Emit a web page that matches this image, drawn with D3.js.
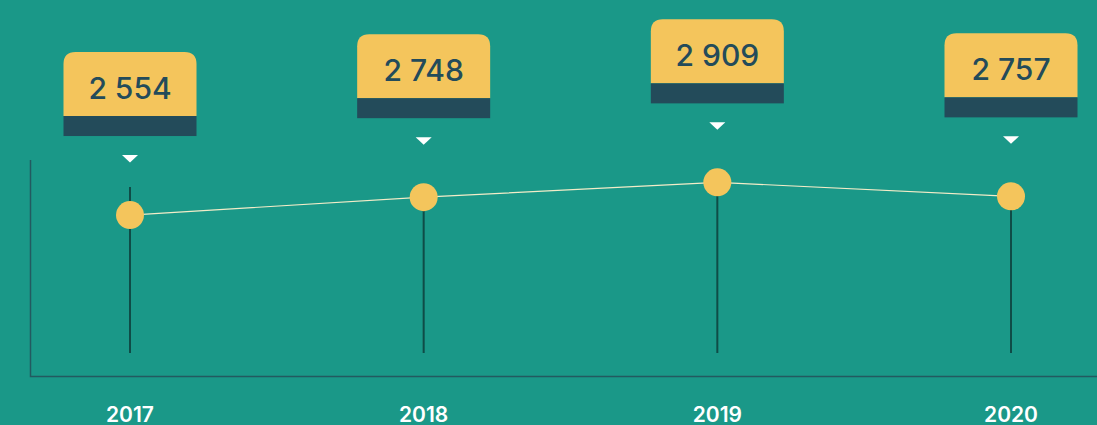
<!DOCTYPE html>
<html>
<head>
<meta charset="utf-8">
<script src="https://cdn.jsdelivr.net/npm/d3@7"></script>
<style>
  html, body { margin: 0; padding: 0; background: #1a9888; overflow: hidden; }
  svg { display: block; font-family: Inter, "Open Sans", sans-serif; }
</style>
</head>
<body>
<div id="chart"></div>
<script>
// chart data
const years = ['2017', '2018', '2019', '2020'];
const values = [2554, 2748, 2909, 2757];

const width = 1097;
const height = 425;

const svg = d3.select('#chart')
  .append('svg')
  .attr('width', width)
  .attr('height', height);

const x = d3.scalePoint()
  .domain(years)
  .range([130, 1011]);

const y = d3.scaleLinear()
  .domain([2500, 3000])
  .range([220, 174]);

const fmt = v => d3.format(',')(v).replace(',', ' ');

// axis frame (left + bottom)
svg.append('path')
  .attr('d', 'M30.5,160V376.5H1097')
  .attr('fill', 'none')
  .attr('stroke', '#235a60')
  .attr('stroke-width', 1.5);

// drop lines
svg.selectAll('.drop')
  .data(years)
  .enter()
  .append('line')
  .attr('class', 'drop')
  .attr('x1', d => x(d))
  .attr('x2', d => x(d))
  .attr('y1', 187)
  .attr('y2', 353)
  .attr('stroke', '#0f4c47')
  .attr('stroke-width', 2);

// connecting line
const line = d3.line()
  .x((d, i) => x(years[i]))
  .y(d => y(d));

svg.append('path')
  .datum(values)
  .attr('d', line)
  .attr('fill', 'none')
  .attr('stroke', '#f3ecc8')
  .attr('stroke-width', 1.2);

// points
svg.selectAll('.dot')
  .data(values)
  .enter()
  .append('circle')
  .attr('class', 'dot')
  .attr('cx', (d, i) => x(years[i]))
  .attr('cy', d => y(d))
  .attr('r', 14)
  .attr('fill', '#f4c55c');

// value tags
const boxW = 133, topH = 64, bandH = 20, rad = 12;
const tags = svg.selectAll('.tag')
  .data(values)
  .enter()
  .append('g')
  .attr('class', 'tag')
  .attr('transform', (d, i) => `translate(${x(years[i])},${y(d) - 79})`);

// yellow part with rounded top corners
tags.append('path')
  .attr('d', () => {
    const l = -boxW / 2, r = boxW / 2, t = -bandH - topH, b = -bandH;
    return `M${l},${b}V${t + rad}Q${l},${t} ${l + rad},${t}H${r - rad}Q${r},${t} ${r},${t + rad}V${b}Z`;
  })
  .attr('fill', '#f4c55c');

tags.append('rect')
  .attr('x', -boxW / 2)
  .attr('y', -bandH)
  .attr('width', boxW)
  .attr('height', bandH)
  .attr('fill', '#234b5a');

tags.append('text')
  .attr('x', 0)
  .attr('y', -bandH - topH + 47)
  .attr('text-anchor', 'middle')
  .attr('font-size', 30)
  .attr('font-weight', 500)
  .attr('fill', '#234b5a')
  .text(d => fmt(d));

// small pointer triangle
tags.append('path')
  .attr('d', 'M-8,19L8,19L0,26.5Z')
  .attr('fill', '#ffffff');

// year labels
svg.selectAll('.year')
  .data(years)
  .enter()
  .append('text')
  .attr('class', 'year')
  .attr('x', d => x(d))
  .attr('y', 422)
  .attr('text-anchor', 'middle')
  .attr('font-size', 21)
  .attr('font-weight', 600)
  .attr('fill', '#ffffff')
  .text(d => d);
</script>
</body>
</html>
